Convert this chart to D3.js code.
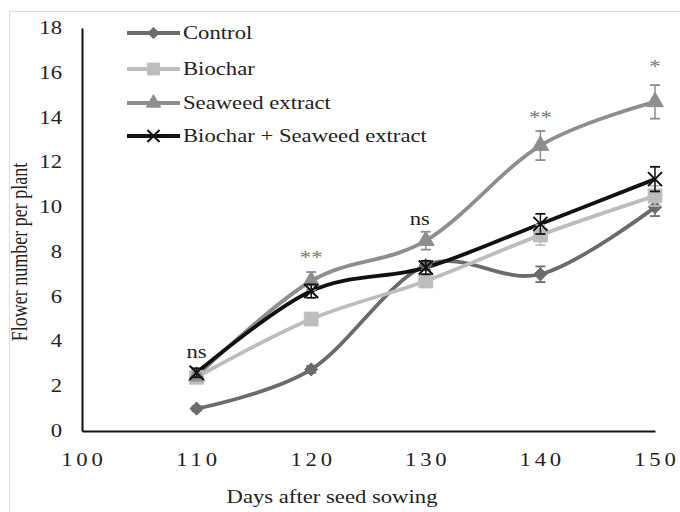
<!DOCTYPE html>
<html>
<head>
<meta charset="utf-8">
<script src="https://cdn.jsdelivr.net/npm/d3@7"></script>
<style>
  body { margin: 0; background: #fff; }
  text { font-family: "Liberation Serif", "Times New Roman", serif; }
</style>
</head>
<body>
<div id="chart"></div>
<script>
const days = [110, 120, 130, 140, 150];
const seriesNames = ['Control', 'Biochar', 'Seaweed extract', 'Biochar + Seaweed extract'];
const control = [1.0, 2.75, 7.4, 7.0, 10.0];
const biochar = [2.4, 5.0, 6.7, 8.75, 10.5];
const seaweed = [2.45, 6.7, 8.5, 12.75, 14.7];
const combo = [2.6, 6.25, 7.3, 9.25, 11.25];
const controlErr = [0.1, 0.15, 0.2, 0.35, 0.4];
const biocharErr = [0.15, 0.2, 0.25, 0.45, 0.45];
const seaweedErr = [0.15, 0.4, 0.4, 0.65, 0.75];
const comboErr = [0.2, 0.3, 0.3, 0.45, 0.55];
const sigLabels = ['ns', '**', 'ns', '**', '*'];
const sigY = [3.25, 7.45, 9.2, 13.7, 16.0];
const yTicks = [0, 2, 4, 6, 8, 10, 12, 14, 16, 18];
const xTicks = [100, 110, 120, 130, 140, 150];

const w = 680;
const h = 512;
const sx = 1.26; // the source figure is stretched sideways

const svg = d3.select('#chart').append('svg')
  .attr('width', w)
  .attr('height', h);

svg.append('rect')
  .attr('x', 9.5).attr('y', 11.5)
  .attr('width', 700).attr('height', 600)
  .attr('fill', 'none')
  .attr('stroke', '#dcdcdc');

const xScale = d3.scaleLinear().domain([100, 150]).range([82, 655]);
const yScale = d3.scaleLinear().domain([0, 18]).range([431, 28]);

const series = [
  { name: seriesNames[0], values: control, err: controlErr, color: '#6b6b6b', symbol: d3.symbolDiamond2, size: 110, fill: true },
  { name: seriesNames[1], values: biochar, err: biocharErr, color: '#bdbdbd', symbol: d3.symbolSquare, size: 190, fill: true },
  { name: seriesNames[2], values: seaweed, err: seaweedErr, color: '#8e8e8e', symbol: d3.symbolTriangle, size: 120, fill: true },
  { name: seriesNames[3], values: combo, err: comboErr, color: '#111111', symbol: d3.symbolX, size: 130, fill: false }
];

// axes
const xAxis = d3.axisBottom(xScale).tickValues(xTicks).tickSize(0).tickFormat('');
const yAxis = d3.axisLeft(yScale).tickValues(yTicks).tickSize(0).tickFormat('');
svg.append('g')
  .attr('transform', 'translate(0,' + yScale(0) + ')')
  .call(xAxis)
  .call(g => g.select('.domain').attr('stroke', '#111').attr('stroke-width', 2));
svg.append('g')
  .attr('transform', 'translate(' + xScale(100) + ',0)')
  .call(yAxis)
  .call(g => g.select('.domain').attr('stroke', '#111').attr('stroke-width', 2));

svg.selectAll('.ytick')
  .data(yTicks)
  .enter()
  .append('text')
  .attr('class', 'ytick')
  .attr('transform', d => 'translate(62,' + (yScale(d) + 6) + ') scale(' + sx + ',1)')
  .attr('text-anchor', 'end')
  .attr('font-size', 18)
  .attr('fill', '#222')
  .text(d => d);

svg.selectAll('.xtick')
  .data(xTicks)
  .enter()
  .append('text')
  .attr('class', 'xtick')
  .attr('transform', d => 'translate(' + xScale(d) + ',466) scale(' + sx + ',1)')
  .attr('text-anchor', 'middle')
  .attr('font-size', 18)
  .attr('letter-spacing', 3)
  .attr('dx', 1.5)
  .attr('fill', '#222')
  .text(d => d);

svg.append('text')
  .attr('transform', 'translate(332,503) scale(' + sx + ',1)')
  .attr('text-anchor', 'middle')
  .attr('font-size', 18)
  .attr('fill', '#222')
  .text('Days after seed sowing');

svg.append('text')
  .attr('transform', 'translate(27,252) scale(' + sx + ',1) rotate(-90)')
  .attr('text-anchor', 'middle')
  .attr('font-size', 18)
  .attr('fill', '#222')
  .text('Flower number per plant');

// lines
const line = d3.line()
  .x((d, i) => xScale(days[i]))
  .y(d => yScale(d))
  .curve(d3.curveCatmullRom.alpha(0));

series.forEach(s => {
  svg.append('path')
    .datum(s.values)
    .attr('fill', 'none')
    .attr('stroke', s.color)
    .attr('stroke-width', 3.8)
    .attr('d', line);
});

// error bars and markers
series.forEach(s => {
  const g = svg.append('g');
  s.values.forEach((v, i) => {
    const x = xScale(days[i]);
    const y0 = yScale(v - s.err[i]);
    const y1 = yScale(v + s.err[i]);
    g.append('line').attr('x1', x).attr('x2', x).attr('y1', y0).attr('y2', y1)
      .attr('stroke', s.color).attr('stroke-width', 1.5);
    [y0, y1].forEach(yy => {
      g.append('line').attr('x1', x - 5).attr('x2', x + 5).attr('y1', yy).attr('y2', yy)
        .attr('stroke', s.color).attr('stroke-width', 1.8);
    });
    g.append('path')
      .attr('d', d3.symbol().type(s.symbol).size(s.size)())
      .attr('transform', 'translate(' + x + ',' + yScale(v) + ')')
      .attr('fill', s.fill ? s.color : 'none')
      .attr('stroke', s.color)
      .attr('stroke-width', s.fill ? 1 : 2);
  });
});

// significance labels
svg.selectAll('.sig')
  .data(sigLabels)
  .enter()
  .append('text')
  .attr('class', 'sig')
  .attr('transform', (d, i) => 'translate(' + (xScale(days[i]) + (i === 2 ? -6 : 0)) + ',' + yScale(sigY[i]) + ') scale(' + sx + ',1)')
  .attr('text-anchor', 'middle')
  .attr('font-size', 18)
  .attr('fill', (d) => d === 'ns' ? '#222' : '#777')
  .text(d => d);

// legend
const legend = svg.append('g');
const rowY = [33, 69, 103, 136];
series.forEach((s, i) => {
  const y = rowY[i];
  legend.append('line')
    .attr('x1', 127).attr('x2', 180).attr('y1', y).attr('y2', y)
    .attr('stroke', s.color).attr('stroke-width', 3.8);
  legend.append('path')
    .attr('d', d3.symbol().type(s.symbol).size(s.size * 0.75)())
    .attr('transform', 'translate(153.5,' + y + ')')
    .attr('fill', s.fill ? s.color : 'none')
    .attr('stroke', s.color)
    .attr('stroke-width', s.fill ? 1 : 2);
  legend.append('text')
    .attr('transform', 'translate(183,' + (y + 6) + ') scale(' + sx + ',1)')
    .attr('font-size', 18)
    .attr('fill', '#222')
    .text(s.name);
});
</script>
</body>
</html>
